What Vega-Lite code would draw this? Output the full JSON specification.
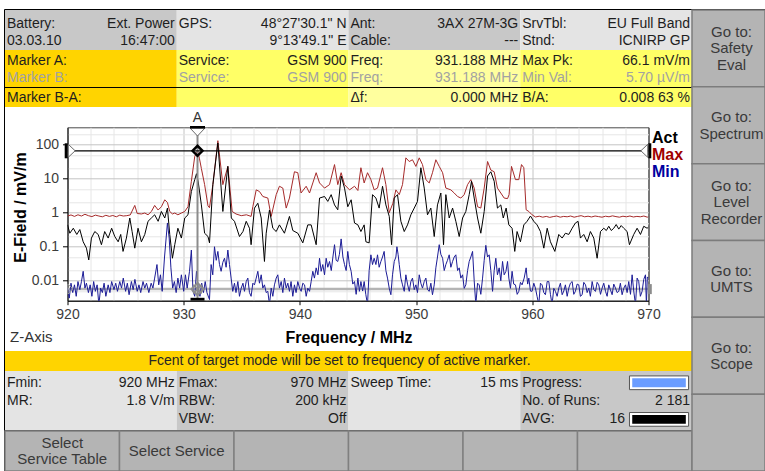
{
"$schema": "https://vega.github.io/schema/vega-lite/v6.json",
"background": "#ffffff",
"width": 581,
"height": 173.4,
"autosize": {"type": "none"},
"padding": {"left": 67.5, "top": 127.3, "right": 116.5, "bottom": 170.3},
"config": {"view": {"stroke": "#4a4a4a", "strokeWidth": 1}, "font": "Liberation Sans"},
"datasets": {
"act": [{"f":920.0,"v":0.44},{"f":920.2,"v":0.25},{"f":920.5,"v":0.35},{"f":920.8,"v":0.23},{"f":921.06,"v":0.32},{"f":921.35,"v":0.14},{"f":921.63,"v":0.091},{"f":921.83,"v":0.041},{"f":922.06,"v":0.18},{"f":922.35,"v":0.28},{"f":922.64,"v":0.23},{"f":922.92,"v":0.115},{"f":923.2,"v":0.28},{"f":923.5,"v":0.18},{"f":923.8,"v":0.35},{"f":924.07,"v":0.2},{"f":924.36,"v":0.14},{"f":924.58,"v":0.23},{"f":924.78,"v":0.073},{"f":925.07,"v":0.18},{"f":925.36,"v":0.7},{"f":925.56,"v":0.28},{"f":925.79,"v":0.091},{"f":926.07,"v":0.35},{"f":926.36,"v":0.14},{"f":926.65,"v":0.23},{"f":926.93,"v":0.56},{"f":927.22,"v":0.7},{"f":927.5,"v":0.87},{"f":927.8,"v":0.56},{"f":928.08,"v":1.09},{"f":928.37,"v":0.7},{"f":928.6,"v":1.37},{"f":928.8,"v":0.23},{"f":929.03,"v":0.046},{"f":929.23,"v":0.115},{"f":929.5,"v":0.35},{"f":929.8,"v":0.18},{"f":930.09,"v":0.7},{"f":930.37,"v":0.87},{"f":930.66,"v":4.2},{"f":930.95,"v":9.4},{"f":931.1,"v":14},{"f":931.25,"v":8},{"f":931.52,"v":1.7},{"f":931.8,"v":0.25},{"f":932.09,"v":0.2},{"f":932.22,"v":0.13},{"f":932.51,"v":6.7},{"f":932.94,"v":112},{"f":933.37,"v":1.09},{"f":933.8,"v":23},{"f":934.1,"v":0.7},{"f":934.37,"v":0.56},{"f":934.8,"v":0.2},{"f":935.1,"v":0.28},{"f":935.38,"v":0.56},{"f":935.66,"v":0.35},{"f":935.8,"v":0.115},{"f":936.09,"v":1.37},{"f":936.38,"v":1.9},{"f":936.67,"v":0.7},{"f":936.95,"v":0.037},{"f":937.1,"v":0.25},{"f":937.38,"v":1.2},{"f":937.67,"v":0.35},{"f":937.96,"v":0.28},{"f":938.24,"v":0.44},{"f":938.67,"v":0.25},{"f":939.1,"v":0.78},{"f":939.39,"v":0.3},{"f":939.82,"v":0.25},{"f":940.25,"v":0.13},{"f":940.68,"v":0.44},{"f":940.97,"v":0.44},{"f":941.4,"v":0.115},{"f":941.69,"v":2.7},{"f":942.12,"v":3.0},{"f":942.4,"v":2.15},{"f":942.69,"v":3.4},{"f":942.98,"v":1.7},{"f":943.26,"v":1.22},{"f":943.55,"v":12},{"f":943.84,"v":5.3},{"f":944.12,"v":1.5},{"f":944.41,"v":2.4},{"f":944.7,"v":0.5},{"f":944.99,"v":0.44},{"f":945.25,"v":0.28},{"f":945.53,"v":0.44},{"f":945.68,"v":0.14},{"f":945.96,"v":0.13},{"f":946.25,"v":3.4},{"f":946.54,"v":2.7},{"f":946.82,"v":1.37},{"f":947.11,"v":6.0},{"f":947.4,"v":1.7},{"f":947.69,"v":0.78},{"f":947.89,"v":0.115},{"f":948.12,"v":2.7},{"f":948.4,"v":3.4},{"f":948.69,"v":0.56},{"f":948.98,"v":0.28},{"f":949.26,"v":0.44},{"f":949.55,"v":0.87},{"f":949.84,"v":1.37},{"f":950.12,"v":2.15},{"f":950.41,"v":21},{"f":950.7,"v":5.3},{"f":950.98,"v":0.87},{"f":951.27,"v":1.37},{"f":951.56,"v":0.2},{"f":951.84,"v":1.7},{"f":952.13,"v":3.8},{"f":952.36,"v":0.115},{"f":952.56,"v":3.4},{"f":952.85,"v":0.7},{"f":953.14,"v":1.37},{"f":953.42,"v":0.56},{"f":953.71,"v":0.2},{"f":954.0,"v":0.7},{"f":954.28,"v":1.09},{"f":954.57,"v":3.4},{"f":954.77,"v":8.4},{"f":955.0,"v":2.7},{"f":955.29,"v":0.7},{"f":955.57,"v":0.25},{"f":955.86,"v":1.09},{"f":956.15,"v":12},{"f":956.43,"v":16},{"f":956.72,"v":8.4},{"f":957.0,"v":1.37},{"f":957.29,"v":1.7},{"f":957.5,"v":0.7},{"f":957.75,"v":1.37},{"f":957.98,"v":0.44},{"f":958.26,"v":0.35},{"f":958.49,"v":0.073},{"f":958.69,"v":0.28},{"f":958.98,"v":0.14},{"f":959.27,"v":0.44},{"f":959.55,"v":0.56},{"f":959.84,"v":0.8},{"f":960.13,"v":0.56},{"f":960.41,"v":0.44},{"f":960.7,"v":0.28},{"f":960.99,"v":0.091},{"f":961.28,"v":0.35},{"f":961.56,"v":0.14},{"f":961.94,"v":0.073},{"f":962.28,"v":0.23},{"f":962.57,"v":0.18},{"f":962.85,"v":0.25},{"f":963.14,"v":0.23},{"f":963.43,"v":0.35},{"f":963.71,"v":0.5},{"f":963.94,"v":0.56},{"f":964.14,"v":0.18},{"f":964.43,"v":0.23},{"f":964.72,"v":0.14},{"f":965.0,"v":0.28},{"f":965.29,"v":0.18},{"f":965.58,"v":0.046},{"f":965.87,"v":0.28},{"f":966.15,"v":0.35},{"f":966.37,"v":0.3},{"f":966.58,"v":0.4},{"f":966.8,"v":0.3},{"f":967.01,"v":0.35},{"f":967.22,"v":0.45},{"f":967.44,"v":0.33},{"f":967.65,"v":0.42},{"f":967.87,"v":0.35},{"f":968.16,"v":0.28},{"f":968.36,"v":0.115},{"f":968.73,"v":0.23},{"f":969.02,"v":0.35},{"f":969.31,"v":0.23},{"f":969.59,"v":0.4},{"f":969.88,"v":0.35},{"f":970.0,"v":0.38}],
"max": [{"f":920.0,"v":0.8},{"f":920.3,"v":0.86},{"f":920.6,"v":0.78},{"f":920.9,"v":0.87},{"f":921.2,"v":0.8},{"f":921.5,"v":0.9},{"f":921.8,"v":0.82},{"f":922.1,"v":0.77},{"f":922.4,"v":0.85},{"f":922.7,"v":0.8},{"f":923.0,"v":0.76},{"f":923.3,"v":0.84},{"f":923.6,"v":0.78},{"f":923.9,"v":0.83},{"f":924.2,"v":0.76},{"f":924.5,"v":0.85},{"f":924.8,"v":0.8},{"f":925.1,"v":0.82},{"f":925.4,"v":0.86},{"f":925.6,"v":1.2},{"f":925.79,"v":1.64},{"f":926.0,"v":0.95},{"f":926.36,"v":0.92},{"f":926.65,"v":0.98},{"f":926.93,"v":0.87},{"f":927.22,"v":1.09},{"f":927.5,"v":1.64},{"f":927.8,"v":1.2},{"f":928.08,"v":1.5},{"f":928.37,"v":2.4},{"f":928.6,"v":2.0},{"f":928.8,"v":1.09},{"f":929.03,"v":0.92},{"f":929.23,"v":0.98},{"f":929.5,"v":0.87},{"f":929.8,"v":0.98},{"f":930.09,"v":1.09},{"f":930.37,"v":1.5},{"f":930.66,"v":8.4},{"f":930.95,"v":45},{"f":931.19,"v":66.1},{"f":931.35,"v":40},{"f":931.52,"v":20},{"f":931.8,"v":6.7},{"f":932.09,"v":1.6},{"f":932.22,"v":1.4},{"f":932.51,"v":6.7},{"f":932.94,"v":131},{"f":933.37,"v":6.7},{"f":933.8,"v":23},{"f":934.17,"v":1.09},{"f":934.5,"v":0.92},{"f":934.95,"v":0.82},{"f":935.4,"v":0.87},{"f":935.8,"v":0.78},{"f":935.95,"v":1.5},{"f":936.24,"v":4.7},{"f":936.52,"v":4.2},{"f":936.81,"v":3.0},{"f":937.24,"v":2.7},{"f":937.53,"v":0.78},{"f":937.96,"v":3.4},{"f":938.24,"v":6.0},{"f":938.53,"v":5.3},{"f":938.82,"v":1.37},{"f":939.1,"v":2.7},{"f":939.53,"v":16},{"f":939.82,"v":15},{"f":940.1,"v":3.8},{"f":940.54,"v":6.0},{"f":940.83,"v":3.8},{"f":941.11,"v":7.5},{"f":941.4,"v":15},{"f":941.69,"v":7.5},{"f":942.12,"v":5.3},{"f":942.55,"v":6.7},{"f":942.98,"v":26},{"f":943.26,"v":6.7},{"f":943.55,"v":15},{"f":943.84,"v":6.7},{"f":944.27,"v":4.7},{"f":944.7,"v":6.0},{"f":944.99,"v":4.5},{"f":945.25,"v":21},{"f":945.53,"v":7.5},{"f":945.82,"v":15},{"f":946.11,"v":9.4},{"f":946.39,"v":4.7},{"f":946.68,"v":5.3},{"f":947.11,"v":21},{"f":947.4,"v":6.7},{"f":947.69,"v":1.0},{"f":948.0,"v":1.9},{"f":948.26,"v":4.7},{"f":948.55,"v":3.4},{"f":948.83,"v":6.7},{"f":949.12,"v":41},{"f":949.41,"v":32},{"f":949.69,"v":36},{"f":949.98,"v":23},{"f":950.27,"v":41},{"f":950.55,"v":26},{"f":950.84,"v":9.4},{"f":951.13,"v":7.5},{"f":951.41,"v":15},{"f":951.7,"v":36},{"f":951.99,"v":23},{"f":952.28,"v":15},{"f":952.56,"v":5.3},{"f":952.99,"v":4.7},{"f":953.28,"v":3.8},{"f":953.57,"v":3.0},{"f":953.85,"v":2.7},{"f":954.14,"v":3.4},{"f":954.43,"v":6.7},{"f":954.71,"v":9.4},{"f":955.0,"v":5.3},{"f":955.29,"v":1.5},{"f":955.57,"v":1.37},{"f":955.86,"v":5.3},{"f":956.15,"v":32},{"f":956.43,"v":18},{"f":956.72,"v":16},{"f":957.0,"v":5.3},{"f":957.29,"v":3.8},{"f":957.58,"v":2.7},{"f":957.87,"v":2.6},{"f":958.0,"v":3.4},{"f":958.21,"v":23},{"f":958.55,"v":9.4},{"f":958.84,"v":9.4},{"f":959.07,"v":26},{"f":959.27,"v":21},{"f":959.47,"v":1.22},{"f":959.7,"v":1.09},{"f":959.98,"v":0.87},{"f":960.27,"v":0.75},{"f":960.6,"v":0.79},{"f":960.9,"v":0.74},{"f":961.2,"v":0.78},{"f":961.5,"v":0.73},{"f":961.8,"v":0.77},{"f":962.1,"v":0.8},{"f":962.4,"v":0.74},{"f":962.7,"v":0.78},{"f":963.0,"v":0.76},{"f":963.3,"v":0.8},{"f":963.6,"v":0.74},{"f":963.9,"v":0.78},{"f":964.2,"v":0.82},{"f":964.5,"v":0.76},{"f":964.8,"v":0.79},{"f":965.1,"v":0.75},{"f":965.4,"v":0.8},{"f":965.7,"v":0.77},{"f":966.0,"v":0.74},{"f":966.3,"v":0.79},{"f":966.6,"v":0.76},{"f":966.9,"v":0.81},{"f":967.2,"v":0.77},{"f":967.5,"v":0.74},{"f":967.8,"v":0.79},{"f":968.1,"v":0.76},{"f":968.4,"v":0.8},{"f":968.7,"v":0.75},{"f":969.0,"v":0.78},{"f":969.3,"v":0.76},{"f":969.6,"v":0.8},{"f":969.9,"v":0.74},{"f":970.0,"v":0.77}],
"min": [{"f":920.0,"v":0.0061},{"f":920.15,"v":0.0031},{"f":920.3,"v":0.0085},{"f":920.45,"v":0.0045},{"f":920.6,"v":0.0076},{"f":920.75,"v":0.0035},{"f":920.9,"v":0.0095},{"f":921.06,"v":0.0055},{"f":921.2,"v":0.0095},{"f":921.35,"v":0.019},{"f":921.5,"v":0.0061},{"f":921.63,"v":0.0085},{"f":921.8,"v":0.0045},{"f":921.95,"v":0.0076},{"f":922.1,"v":0.0035},{"f":922.25,"v":0.0095},{"f":922.4,"v":0.0049},{"f":922.55,"v":0.0076},{"f":922.7,"v":0.002},{"f":922.85,"v":0.0061},{"f":923.0,"v":0.0045},{"f":923.15,"v":0.0085},{"f":923.3,"v":0.0035},{"f":923.5,"v":0.0076},{"f":923.65,"v":0.0045},{"f":923.8,"v":0.0095},{"f":924.0,"v":0.0055},{"f":924.15,"v":0.0085},{"f":924.3,"v":0.0049},{"f":924.5,"v":0.0095},{"f":924.65,"v":0.0061},{"f":924.8,"v":0.012},{"f":925.0,"v":0.0049},{"f":925.15,"v":0.0085},{"f":925.3,"v":0.0039},{"f":925.5,"v":0.0095},{"f":925.65,"v":0.0055},{"f":925.8,"v":0.011},{"f":926.0,"v":0.0049},{"f":926.15,"v":0.0076},{"f":926.3,"v":0.0045},{"f":926.5,"v":0.0095},{"f":926.65,"v":0.0061},{"f":926.8,"v":0.0085},{"f":927.0,"v":0.0045},{"f":927.2,"v":0.0085},{"f":927.35,"v":0.0061},{"f":927.5,"v":0.012},{"f":927.7,"v":0.03},{"f":927.85,"v":0.0076},{"f":928.0,"v":0.015},{"f":928.15,"v":0.0049},{"f":928.35,"v":0.05},{"f":928.6,"v":0.5},{"f":928.75,"v":0.18},{"f":928.9,"v":0.024},{"f":929.05,"v":0.0061},{"f":929.2,"v":0.0095},{"f":929.35,"v":0.0045},{"f":929.5,"v":0.012},{"f":929.65,"v":0.0061},{"f":929.8,"v":0.015},{"f":930.0,"v":0.0049},{"f":930.15,"v":0.015},{"f":930.3,"v":0.0061},{"f":930.5,"v":0.019},{"f":930.66,"v":0.08},{"f":930.8,"v":0.0049},{"f":930.95,"v":0.0035},{"f":931.1,"v":0.019},{"f":931.25,"v":0.0061},{"f":931.4,"v":0.0035},{"f":931.55,"v":0.0085},{"f":931.7,"v":0.0045},{"f":931.85,"v":0.0095},{"f":932.0,"v":0.0045},{"f":932.22,"v":0.0028},{"f":932.36,"v":0.03},{"f":932.5,"v":0.015},{"f":932.65,"v":0.1},{"f":932.8,"v":0.04},{"f":932.94,"v":0.073},{"f":933.08,"v":0.03},{"f":933.22,"v":0.019},{"f":933.37,"v":0.035},{"f":933.51,"v":0.046},{"f":933.65,"v":0.025},{"f":933.8,"v":0.08},{"f":933.94,"v":0.03},{"f":934.08,"v":0.012},{"f":934.22,"v":0.0049},{"f":934.37,"v":0.0085},{"f":934.5,"v":0.0045},{"f":934.66,"v":0.0095},{"f":934.8,"v":0.0035},{"f":934.95,"v":0.0061},{"f":935.1,"v":0.0085},{"f":935.23,"v":0.0049},{"f":935.38,"v":0.0095},{"f":935.52,"v":0.012},{"f":935.66,"v":0.0045},{"f":935.8,"v":0.0035},{"f":935.95,"v":0.0085},{"f":936.09,"v":0.0076},{"f":936.24,"v":0.012},{"f":936.38,"v":0.019},{"f":936.52,"v":0.0085},{"f":936.67,"v":0.015},{"f":936.81,"v":0.0061},{"f":936.95,"v":0.0076},{"f":937.1,"v":0.0045},{"f":937.24,"v":0.0049},{"f":937.38,"v":0.002},{"f":937.53,"v":0.0061},{"f":937.67,"v":0.0035},{"f":937.81,"v":0.0076},{"f":937.96,"v":0.012},{"f":938.1,"v":0.015},{"f":938.24,"v":0.0061},{"f":938.39,"v":0.0095},{"f":938.53,"v":0.0045},{"f":938.67,"v":0.012},{"f":938.82,"v":0.0061},{"f":938.96,"v":0.0085},{"f":939.1,"v":0.0049},{"f":939.24,"v":0.0095},{"f":939.39,"v":0.0035},{"f":939.53,"v":0.0076},{"f":939.67,"v":0.0045},{"f":939.82,"v":0.0095},{"f":939.97,"v":0.0061},{"f":940.11,"v":0.0049},{"f":940.25,"v":0.0085},{"f":940.4,"v":0.0076},{"f":940.54,"v":0.0035},{"f":940.68,"v":0.0061},{"f":940.83,"v":0.0049},{"f":940.97,"v":0.0095},{"f":941.11,"v":0.019},{"f":941.25,"v":0.012},{"f":941.4,"v":0.024},{"f":941.55,"v":0.015},{"f":941.69,"v":0.046},{"f":941.83,"v":0.019},{"f":941.97,"v":0.03},{"f":942.12,"v":0.015},{"f":942.26,"v":0.046},{"f":942.4,"v":0.025},{"f":942.55,"v":0.037},{"f":942.7,"v":0.02},{"f":942.84,"v":0.05},{"f":942.98,"v":0.115},{"f":943.12,"v":0.04},{"f":943.26,"v":0.037},{"f":943.4,"v":0.06},{"f":943.55,"v":0.17},{"f":943.7,"v":0.05},{"f":943.84,"v":0.03},{"f":943.98,"v":0.02},{"f":944.12,"v":0.073},{"f":944.26,"v":0.03},{"f":944.41,"v":0.019},{"f":944.55,"v":0.008},{"f":944.7,"v":0.0095},{"f":944.84,"v":0.004},{"f":944.99,"v":0.012},{"f":945.12,"v":0.0049},{"f":945.25,"v":0.0095},{"f":945.4,"v":0.005},{"f":945.53,"v":0.0095},{"f":945.67,"v":0.004},{"f":945.82,"v":0.002},{"f":945.96,"v":0.02},{"f":946.11,"v":0.058},{"f":946.25,"v":0.03},{"f":946.39,"v":0.046},{"f":946.54,"v":0.03},{"f":946.68,"v":0.058},{"f":946.82,"v":0.025},{"f":946.97,"v":0.037},{"f":947.11,"v":0.05},{"f":947.25,"v":0.073},{"f":947.4,"v":0.02},{"f":947.54,"v":0.012},{"f":947.69,"v":0.006},{"f":947.83,"v":0.0039},{"f":947.97,"v":0.015},{"f":948.12,"v":0.037},{"f":948.26,"v":0.05},{"f":948.35,"v":0.1},{"f":948.45,"v":0.06},{"f":948.55,"v":0.03},{"f":948.69,"v":0.012},{"f":948.83,"v":0.0076},{"f":948.98,"v":0.0049},{"f":949.12,"v":0.015},{"f":949.26,"v":0.008},{"f":949.41,"v":0.0049},{"f":949.55,"v":0.0095},{"f":949.69,"v":0.012},{"f":949.84,"v":0.0055},{"f":949.98,"v":0.0076},{"f":950.12,"v":0.0045},{"f":950.27,"v":0.015},{"f":950.41,"v":0.0085},{"f":950.55,"v":0.0061},{"f":950.7,"v":0.0095},{"f":950.84,"v":0.012},{"f":950.98,"v":0.0055},{"f":951.13,"v":0.0049},{"f":951.27,"v":0.0085},{"f":951.41,"v":0.0039},{"f":951.56,"v":0.0076},{"f":951.7,"v":0.024},{"f":951.84,"v":0.05},{"f":951.99,"v":0.115},{"f":952.13,"v":0.06},{"f":952.28,"v":0.046},{"f":952.42,"v":0.02},{"f":952.56,"v":0.03},{"f":952.7,"v":0.04},{"f":952.85,"v":0.058},{"f":952.99,"v":0.025},{"f":953.14,"v":0.037},{"f":953.28,"v":0.05},{"f":953.42,"v":0.058},{"f":953.57,"v":0.02},{"f":953.71,"v":0.024},{"f":953.85,"v":0.012},{"f":954.0,"v":0.015},{"f":954.14,"v":0.006},{"f":954.28,"v":0.0076},{"f":954.43,"v":0.02},{"f":954.57,"v":0.037},{"f":954.71,"v":0.05},{"f":954.86,"v":0.073},{"f":955.0,"v":0.01},{"f":955.14,"v":0.002},{"f":955.29,"v":0.0085},{"f":955.43,"v":0.0076},{"f":955.57,"v":0.004},{"f":955.72,"v":0.012},{"f":955.86,"v":0.04},{"f":956.0,"v":0.11},{"f":956.15,"v":0.05},{"f":956.29,"v":0.058},{"f":956.43,"v":0.02},{"f":956.58,"v":0.0049},{"f":956.72,"v":0.02},{"f":956.86,"v":0.046},{"f":957.0,"v":0.015},{"f":957.15,"v":0.024},{"f":957.29,"v":0.01},{"f":957.44,"v":0.037},{"f":957.58,"v":0.015},{"f":957.73,"v":0.019},{"f":957.87,"v":0.037},{"f":957.98,"v":0.012},{"f":958.12,"v":0.006},{"f":958.26,"v":0.019},{"f":958.4,"v":0.008},{"f":958.55,"v":0.0076},{"f":958.7,"v":0.004},{"f":958.84,"v":0.0049},{"f":958.98,"v":0.009},{"f":959.12,"v":0.0076},{"f":959.3,"v":0.012},{"f":959.47,"v":0.024},{"f":959.6,"v":0.008},{"f":959.7,"v":0.012},{"f":959.84,"v":0.005},{"f":959.98,"v":0.0049},{"f":960.13,"v":0.0085},{"f":960.27,"v":0.0061},{"f":960.41,"v":0.0035},{"f":960.56,"v":0.002},{"f":960.7,"v":0.0085},{"f":960.84,"v":0.0076},{"f":960.99,"v":0.0045},{"f":961.13,"v":0.0039},{"f":961.28,"v":0.0095},{"f":961.42,"v":0.0095},{"f":961.56,"v":0.004},{"f":961.7,"v":0.002},{"f":961.85,"v":0.006},{"f":961.99,"v":0.0049},{"f":962.14,"v":0.0035},{"f":962.28,"v":0.0061},{"f":962.42,"v":0.0085},{"f":962.57,"v":0.0039},{"f":962.71,"v":0.005},{"f":962.85,"v":0.0076},{"f":963.0,"v":0.0035},{"f":963.14,"v":0.0061},{"f":963.28,"v":0.0085},{"f":963.43,"v":0.0095},{"f":963.57,"v":0.004},{"f":963.71,"v":0.0049},{"f":963.86,"v":0.008},{"f":964.0,"v":0.0076},{"f":964.14,"v":0.0035},{"f":964.29,"v":0.0039},{"f":964.43,"v":0.009},{"f":964.58,"v":0.0076},{"f":964.72,"v":0.0045},{"f":964.86,"v":0.0061},{"f":965.0,"v":0.0035},{"f":965.15,"v":0.0095},{"f":965.29,"v":0.0055},{"f":965.44,"v":0.0049},{"f":965.58,"v":0.009},{"f":965.72,"v":0.0076},{"f":965.87,"v":0.004},{"f":966.01,"v":0.0061},{"f":966.15,"v":0.0085},{"f":966.3,"v":0.0049},{"f":966.44,"v":0.0035},{"f":966.58,"v":0.0076},{"f":966.72,"v":0.0055},{"f":966.87,"v":0.0039},{"f":967.01,"v":0.008},{"f":967.16,"v":0.0061},{"f":967.3,"v":0.0045},{"f":967.44,"v":0.0049},{"f":967.58,"v":0.0085},{"f":967.73,"v":0.0039},{"f":967.87,"v":0.006},{"f":968.02,"v":0.0076},{"f":968.16,"v":0.0045},{"f":968.3,"v":0.0095},{"f":968.45,"v":0.004},{"f":968.59,"v":0.015},{"f":968.73,"v":0.005},{"f":968.88,"v":0.002},{"f":969.02,"v":0.012},{"f":969.16,"v":0.0095},{"f":969.3,"v":0.0035},{"f":969.45,"v":0.0049},{"f":969.59,"v":0.011},{"f":969.74,"v":0.015},{"f":969.82,"v":0.002},{"f":969.9,"v":0.013},{"f":970.0,"v":0.012}],
"markerA": [{"marker":"A","freq":931.188,"level":66.1}],
"markerB": [{"marker":"B","freq":931.188,"level":0.0057}],
"status": [{"col":"c1","line":1,"label":"Battery:","value":"Ext. Power","tone":"n"},{"col":"c1","line":2,"label":"03.03.10","value":"16:47:00","tone":"n"},{"col":"c2","line":1,"label":"GPS:","value":"48°27'30.1\" N","tone":"n"},{"col":"c2","line":2,"label":"","value":"9°13'49.1\" E","tone":"n"},{"col":"c3","line":1,"label":"Ant:","value":"3AX 27M-3G","tone":"n"},{"col":"c3","line":2,"label":"Cable:","value":"---","tone":"n"},{"col":"c4","line":1,"label":"SrvTbl:","value":"EU Full Band","tone":"n"},{"col":"c4","line":2,"label":"Stnd:","value":"ICNIRP GP","tone":"n"}],
"marker": [{"col":"c1","line":1,"label":"Marker A:","value":"","tone":"n"},{"col":"c1","line":2,"label":"Marker B:","value":"","tone":"d"},{"col":"c2","line":1,"label":"Service:","value":"GSM 900","tone":"n"},{"col":"c2","line":2,"label":"Service:","value":"GSM 900","tone":"d"},{"col":"c3","line":1,"label":"Freq:","value":"931.188 MHz","tone":"n"},{"col":"c3","line":2,"label":"Freq:","value":"931.188 MHz","tone":"d"},{"col":"c4","line":1,"label":"Max Pk:","value":"66.1 mV/m","tone":"n"},{"col":"c4","line":2,"label":"Min Val:","value":"5.70 µV/m","tone":"d"}],
"delta": [{"col":"c1","row":"r","label":"Marker B-A:","value":"","tone":"n"},{"col":"c2","row":"r","label":"","value":"","tone":"n"},{"col":"c3","row":"r","label":"Δf:","value":"0.000 MHz","tone":"n"},{"col":"c4","row":"r","label":"B/A:","value":"0.008 63 %","tone":"n"}],
"info": [{"col":"c1","line":1,"label":"Fmin:","value":"920 MHz","tone":"n"},{"col":"c1","line":2,"label":"MR:","value":"1.8 V/m","tone":"n"},{"col":"c2","line":1,"label":"Fmax:","value":"970 MHz","tone":"n"},{"col":"c2","line":2,"label":"RBW:","value":"200 kHz","tone":"n"},{"col":"c2","line":3,"label":"VBW:","value":"Off","tone":"n"},{"col":"c3","line":1,"label":"Sweep Time:","value":"15 ms","tone":"n"},{"col":"c4","line":1,"label":"Progress:","value":"","tone":"n"},{"col":"c4","line":2,"label":"No. of Runs:","value":"2 181","tone":"n"},{"col":"c4","line":3,"label":"AVG:","value":"","tone":"n"}],
"meters": [{"col":"c4","line":1,"kind":"blue","reading":"","tone":"n"},{"col":"c4","line":3,"kind":"black","reading":"16","tone":"n"}],
"softkeys": [{"btn":"b1","row":"k","label":"Select\nService Table"},{"btn":"b2","row":"k","label":"Select Service"},{"btn":"b3","row":"k","label":""},{"btn":"b4","row":"k","label":""},{"btn":"b5","row":"k","label":""},{"btn":"b6","row":"k","label":""}],
"gotokeys": [{"btn":"b1","colm":"g","label":"Go to:\nSafety\nEval"},{"btn":"b2","colm":"g","label":"Go to:\nSpectrum"},{"btn":"b3","colm":"g","label":"Go to:\nLevel\nRecorder"},{"btn":"b4","colm":"g","label":"Go to:\nUMTS"},{"btn":"b5","colm":"g","label":"Go to:\nScope"},{"btn":"b6","colm":"g","label":""}]
},
"layer": [
 {"data": {"values": [{"part": "frame"}]},
  "mark": {"type": "rect", "fillOpacity": 0, "stroke": "#000000", "strokeWidth": 1},
  "encoding": {"x": {"field": "part", "type": "nominal", "scale": {"type": "band", "range": [-63, 712.5], "paddingInner": 0, "paddingOuter": 0}, "axis": null},
               "y": {"field": "part", "type": "nominal", "scale": {"type": "band", "range": [-117.8, 362.7], "paddingInner": 0, "paddingOuter": 0}, "axis": null}}},
 {"layer": [
   {"data": {"values": [{"col":"c1","blk":"s","kind":"gray"},{"col":"c2","blk":"s","kind":"light"},{"col":"c3","blk":"s","kind":"gray"},{"col":"c4","blk":"s","kind":"light"}]},
    "mark": "rect",
    "encoding": {"x": {"field":"col","type":"nominal","scale":{"type":"band","domain":["c1","c2","c3","c4"],"range":[-62.5,624.5],"paddingInner":0,"paddingOuter":0},"axis":null},
                 "y": {"field":"blk","type":"nominal","scale":{"type":"band","range":[-117.3,-77.3],"paddingInner":0,"paddingOuter":0},"axis":null},
                 "fill": {"field":"kind","type":"nominal","scale":{"domain":["gray","light","gold","yellow","pale","n","d","blue","black"],"range":["#c8c8c8","#e4e4e4","#ffd400","#ffff66","#ffff9e","#1e1e1e","#a2a2a2","#6a9cff","#000000"]},"legend":null}}},
   {"data": {"name": "status"}, "mark": {"type":"text","align":"left","baseline":"middle","dx":2,"dy":1,"fontSize":14},
    "encoding": {"x": {"field":"col","type":"nominal","bandPosition":0,"scale":{"type":"band","domain":["c1","c2","c3","c4"],"range":[-62.5,624.5],"paddingInner":0,"paddingOuter":0},"axis":null},
                 "y": {"field":"line","type":"ordinal","scale":{"type":"band","domain":[1,2],"range":[-117.3,-77.3],"paddingInner":0,"paddingOuter":0.156,"align":0.75},"axis":null},
                 "text": {"field":"label"},
                 "fill": {"field":"tone","type":"nominal","scale":{"domain":["gray","light","gold","yellow","pale","n","d","blue","black"],"range":["#c8c8c8","#e4e4e4","#ffd400","#ffff66","#ffff9e","#1e1e1e","#a2a2a2","#6a9cff","#000000"]},"legend":null}}},
   {"data": {"name": "status"}, "mark": {"type":"text","align":"right","baseline":"middle","dx":-2,"dy":1,"fontSize":14},
    "encoding": {"x": {"field":"col","type":"nominal","bandPosition":1,"scale":{"type":"band","domain":["c1","c2","c3","c4"],"range":[-62.5,624.5],"paddingInner":0,"paddingOuter":0},"axis":null},
                 "y": {"field":"line","type":"ordinal","scale":{"type":"band","domain":[1,2],"range":[-117.3,-77.3],"paddingInner":0,"paddingOuter":0.156,"align":0.75},"axis":null},
                 "text": {"field":"value"},
                 "fill": {"field":"tone","type":"nominal","scale":{"domain":["gray","light","gold","yellow","pale","n","d","blue","black"],"range":["#c8c8c8","#e4e4e4","#ffd400","#ffff66","#ffff9e","#1e1e1e","#a2a2a2","#6a9cff","#000000"]},"legend":null}}}
  ], "resolve": {"scale": {"y": "independent"}}},
 {"layer": [
   {"data": {"values": [{"col":"c1","blk":"m","kind":"gold"},{"col":"c2","blk":"m","kind":"yellow"},{"col":"c3","blk":"m","kind":"pale"},{"col":"c4","blk":"m","kind":"yellow"}]},
    "mark": "rect",
    "encoding": {"x": {"field":"col","type":"nominal","scale":{"type":"band","domain":["c1","c2","c3","c4"],"range":[-62.5,624.5],"paddingInner":0,"paddingOuter":0},"axis":null},
                 "y": {"field":"blk","type":"nominal","scale":{"type":"band","range":[-77.3,-40.3],"paddingInner":0,"paddingOuter":0},"axis":null},
                 "fill": {"field":"kind","type":"nominal","scale":{"domain":["gray","light","gold","yellow","pale","n","d","blue","black"],"range":["#c8c8c8","#e4e4e4","#ffd400","#ffff66","#ffff9e","#1e1e1e","#a2a2a2","#6a9cff","#000000"]},"legend":null}}},
   {"data": {"name": "marker"}, "mark": {"type":"text","align":"left","baseline":"middle","dx":2,"dy":1,"fontSize":14},
    "encoding": {"x": {"field":"col","type":"nominal","bandPosition":0,"scale":{"type":"band","domain":["c1","c2","c3","c4"],"range":[-62.5,624.5],"paddingInner":0,"paddingOuter":0},"axis":null},
                 "y": {"field":"line","type":"ordinal","scale":{"type":"band","domain":[1,2],"range":[-77.3,-40.3],"paddingInner":0,"paddingOuter":0.069,"align":0.5},"axis":null},
                 "text": {"field":"label"},
                 "fill": {"field":"tone","type":"nominal","scale":{"domain":["gray","light","gold","yellow","pale","n","d","blue","black"],"range":["#c8c8c8","#e4e4e4","#ffd400","#ffff66","#ffff9e","#1e1e1e","#a2a2a2","#6a9cff","#000000"]},"legend":null}}},
   {"data": {"name": "marker"}, "mark": {"type":"text","align":"right","baseline":"middle","dx":-2,"dy":1,"fontSize":14},
    "encoding": {"x": {"field":"col","type":"nominal","bandPosition":1,"scale":{"type":"band","domain":["c1","c2","c3","c4"],"range":[-62.5,624.5],"paddingInner":0,"paddingOuter":0},"axis":null},
                 "y": {"field":"line","type":"ordinal","scale":{"type":"band","domain":[1,2],"range":[-77.3,-40.3],"paddingInner":0,"paddingOuter":0.069,"align":0.5},"axis":null},
                 "text": {"field":"value"},
                 "fill": {"field":"tone","type":"nominal","scale":{"domain":["gray","light","gold","yellow","pale","n","d","blue","black"],"range":["#c8c8c8","#e4e4e4","#ffd400","#ffff66","#ffff9e","#1e1e1e","#a2a2a2","#6a9cff","#000000"]},"legend":null}}}
  ], "resolve": {"scale": {"y": "independent"}}},
 {"data": {"values": [{"part": "sep"}]},
  "mark": {"type": "rect", "fill": "#000000"},
  "encoding": {"x": {"field": "part", "type": "nominal", "scale": {"type": "band", "range": [-62.5, 624.5], "paddingInner": 0, "paddingOuter": 0}, "axis": null},
               "y": {"field": "part", "type": "nominal", "scale": {"type": "band", "range": [-40.3, -39.3], "paddingInner": 0, "paddingOuter": 0}, "axis": null}}},
 {"layer": [
   {"data": {"values": [{"col":"c1","row":"r","kind":"gold"},{"col":"c2","row":"r","kind":"yellow"},{"col":"c3","row":"r","kind":"pale"},{"col":"c4","row":"r","kind":"yellow"}]},
    "mark": "rect",
    "encoding": {"x": {"field":"col","type":"nominal","scale":{"type":"band","domain":["c1","c2","c3","c4"],"range":[-62.5,624.5],"paddingInner":0,"paddingOuter":0},"axis":null},
                 "y": {"field":"row","type":"nominal","scale":{"type":"band","range":[-39.3,-20.3],"paddingInner":0,"paddingOuter":0},"axis":null},
                 "fill": {"field":"kind","type":"nominal","scale":{"domain":["gray","light","gold","yellow","pale","n","d","blue","black"],"range":["#c8c8c8","#e4e4e4","#ffd400","#ffff66","#ffff9e","#1e1e1e","#a2a2a2","#6a9cff","#000000"]},"legend":null}}},
   {"data": {"name": "delta"}, "mark": {"type":"text","align":"left","baseline":"middle","dx":2,"fontSize":14},
    "encoding": {"x": {"field":"col","type":"nominal","bandPosition":0,"scale":{"type":"band","domain":["c1","c2","c3","c4"],"range":[-62.5,624.5],"paddingInner":0,"paddingOuter":0},"axis":null},
                 "y": {"field":"row","type":"nominal","scale":{"type":"band","range":[-39.3,-20.3],"paddingInner":0,"paddingOuter":0},"axis":null},
                 "text": {"field":"label"},
                 "fill": {"field":"tone","type":"nominal","scale":{"domain":["gray","light","gold","yellow","pale","n","d","blue","black"],"range":["#c8c8c8","#e4e4e4","#ffd400","#ffff66","#ffff9e","#1e1e1e","#a2a2a2","#6a9cff","#000000"]},"legend":null}}},
   {"data": {"name": "delta"}, "mark": {"type":"text","align":"right","baseline":"middle","dx":-2,"fontSize":14},
    "encoding": {"x": {"field":"col","type":"nominal","bandPosition":1,"scale":{"type":"band","domain":["c1","c2","c3","c4"],"range":[-62.5,624.5],"paddingInner":0,"paddingOuter":0},"axis":null},
                 "y": {"field":"row","type":"nominal","scale":{"type":"band","range":[-39.3,-20.3],"paddingInner":0,"paddingOuter":0},"axis":null},
                 "text": {"field":"value"},
                 "fill": {"field":"tone","type":"nominal","scale":{"domain":["gray","light","gold","yellow","pale","n","d","blue","black"],"range":["#c8c8c8","#e4e4e4","#ffd400","#ffff66","#ffff9e","#1e1e1e","#a2a2a2","#6a9cff","#000000"]},"legend":null}}}
  ]},
 {"data": {"values": [{"part": "msg", "msg": "Fcent of target mode will be set to frequency of active marker."}]},
  "layer": [
   {"mark": {"type": "rect", "fill": "#ffd400"},
    "encoding": {"x": {"field": "part", "type": "nominal", "scale": {"type": "band", "range": [-62.5, 624.5], "paddingInner": 0, "paddingOuter": 0}, "axis": null},
                 "y": {"field": "part", "type": "nominal", "scale": {"type": "band", "range": [223.7, 243.7], "paddingInner": 0, "paddingOuter": 0}, "axis": null}}},
   {"mark": {"type": "text", "fontSize": 14, "fill": "#262626", "baseline": "middle", "dx": -9},
    "encoding": {"x": {"field": "part", "type": "nominal", "scale": {"type": "band", "range": [-62.5, 624.5], "paddingInner": 0, "paddingOuter": 0}, "axis": null},
                 "y": {"field": "part", "type": "nominal", "scale": {"type": "band", "range": [223.7, 243.7], "paddingInner": 0, "paddingOuter": 0}, "axis": null},
                 "text": {"field": "msg"}}}
  ]},
 {"layer": [
   {"data": {"values": [{"col":"c1","blk":"i","kind":"light"},{"col":"c2","blk":"i","kind":"gray"},{"col":"c3","blk":"i","kind":"light"},{"col":"c4","blk":"i","kind":"gray"}]},
    "mark": "rect",
    "encoding": {"x": {"field":"col","type":"nominal","scale":{"type":"band","domain":["c1","c2","c3","c4"],"range":[-62.5,624.5],"paddingInner":0,"paddingOuter":0},"axis":null},
                 "y": {"field":"blk","type":"nominal","scale":{"type":"band","range":[243.7,302.7],"paddingInner":0,"paddingOuter":0},"axis":null},
                 "fill": {"field":"kind","type":"nominal","scale":{"domain":["gray","light","gold","yellow","pale","n","d","blue","black"],"range":["#c8c8c8","#e4e4e4","#ffd400","#ffff66","#ffff9e","#1e1e1e","#a2a2a2","#6a9cff","#000000"]},"legend":null}}},
   {"data": {"name": "info"}, "mark": {"type":"text","align":"left","baseline":"middle","dx":2,"fontSize":14},
    "encoding": {"x": {"field":"col","type":"nominal","bandPosition":0,"scale":{"type":"band","domain":["c1","c2","c3","c4"],"range":[-62.5,624.5],"paddingInner":0,"paddingOuter":0},"axis":null},
                 "y": {"field":"line","type":"ordinal","scale":{"type":"band","domain":[1,2,3],"range":[243.7,302.7],"paddingInner":0,"paddingOuter":0.112,"align":0.62},"axis":null},
                 "text": {"field":"label"},
                 "fill": {"field":"tone","type":"nominal","scale":{"domain":["gray","light","gold","yellow","pale","n","d","blue","black"],"range":["#c8c8c8","#e4e4e4","#ffd400","#ffff66","#ffff9e","#1e1e1e","#a2a2a2","#6a9cff","#000000"]},"legend":null}}},
   {"data": {"name": "info"}, "mark": {"type":"text","align":"right","baseline":"middle","dx":-2,"fontSize":14},
    "encoding": {"x": {"field":"col","type":"nominal","bandPosition":1,"scale":{"type":"band","domain":["c1","c2","c3","c4"],"range":[-62.5,624.5],"paddingInner":0,"paddingOuter":0},"axis":null},
                 "y": {"field":"line","type":"ordinal","scale":{"type":"band","domain":[1,2,3],"range":[243.7,302.7],"paddingInner":0,"paddingOuter":0.112,"align":0.62},"axis":null},
                 "text": {"field":"value"},
                 "fill": {"field":"tone","type":"nominal","scale":{"domain":["gray","light","gold","yellow","pale","n","d","blue","black"],"range":["#c8c8c8","#e4e4e4","#ffd400","#ffff66","#ffff9e","#1e1e1e","#a2a2a2","#6a9cff","#000000"]},"legend":null}}},
   {"data": {"name": "meters"}, "mark": {"type":"rect","fill":"#ffffff","stroke":"#555555","strokeWidth":1},
    "encoding": {"x": {"field":"col","type":"nominal","bandPosition":0.636,"scale":{"type":"band","domain":["c1","c2","c3","c4"],"range":[-62.5,624.5],"paddingInner":0,"paddingOuter":0},"axis":null},
                 "x2": {"field":"col","bandPosition":0.98},
                 "y": {"field":"line","type":"ordinal","bandPosition":0.13,"scale":{"type":"band","domain":[1,2,3],"range":[243.7,302.7],"paddingInner":0,"paddingOuter":0.112,"align":0.62},"axis":null},
                 "y2": {"field":"line","bandPosition":0.88}}},
   {"data": {"name": "meters"}, "mark": {"type":"rect"},
    "encoding": {"x": {"field":"col","type":"nominal","bandPosition":0.652,"scale":{"type":"band","domain":["c1","c2","c3","c4"],"range":[-62.5,624.5],"paddingInner":0,"paddingOuter":0},"axis":null},
                 "x2": {"field":"col","bandPosition":0.964},
                 "y": {"field":"line","type":"ordinal","bandPosition":0.26,"scale":{"type":"band","domain":[1,2,3],"range":[243.7,302.7],"paddingInner":0,"paddingOuter":0.112,"align":0.62},"axis":null},
                 "y2": {"field":"line","bandPosition":0.75},
                 "fill": {"field":"kind","type":"nominal","scale":{"domain":["gray","light","gold","yellow","pale","n","d","blue","black"],"range":["#c8c8c8","#e4e4e4","#ffd400","#ffff66","#ffff9e","#1e1e1e","#a2a2a2","#6a9cff","#000000"]},"legend":null}}},
   {"data": {"name": "meters"}, "mark": {"type":"text","align":"right","baseline":"middle","fontSize":14},
    "encoding": {"x": {"field":"col","type":"nominal","bandPosition":0.61,"scale":{"type":"band","domain":["c1","c2","c3","c4"],"range":[-62.5,624.5],"paddingInner":0,"paddingOuter":0},"axis":null},
                 "y": {"field":"line","type":"ordinal","scale":{"type":"band","domain":[1,2,3],"range":[243.7,302.7],"paddingInner":0,"paddingOuter":0.112,"align":0.62},"axis":null},
                 "text": {"field":"reading"},
                 "fill": {"field":"tone","type":"nominal","scale":{"domain":["gray","light","gold","yellow","pale","n","d","blue","black"],"range":["#c8c8c8","#e4e4e4","#ffd400","#ffff66","#ffff9e","#1e1e1e","#a2a2a2","#6a9cff","#000000"]},"legend":null}}}
  ], "resolve": {"scale": {"y": "independent"}}},
 {"data": {"values": [{"part": "line"}]},
  "mark": {"type": "rect", "fill": "#3c3c3c"},
  "encoding": {"x": {"field": "part", "type": "nominal", "scale": {"type": "band", "range": [-62.5, 624.5], "paddingInner": 0, "paddingOuter": 0}, "axis": null},
               "y": {"field": "part", "type": "nominal", "scale": {"type": "band", "range": [302.7, 303.7], "paddingInner": 0, "paddingOuter": 0}, "axis": null}}},
 {"data": {"name": "softkeys"},
  "layer": [
   {"mark": {"type": "rect", "fill": "#b4b4b4", "stroke": "#808080", "strokeWidth": 1.5},
    "encoding": {"x": {"field": "btn", "type": "nominal", "scale": {"type": "band", "range": [-62.5, 624.5], "paddingInner": 0, "paddingOuter": 0}, "axis": null},
                 "y": {"field": "row", "type": "nominal", "scale": {"type": "band", "range": [303.7, 343.7], "paddingInner": 0, "paddingOuter": 0}, "axis": null}}},
   {"transform": [{"filter": "length(split(datum.label, '\\n')) == 1"}],
    "mark": {"type": "text", "fontSize": 15, "fill": "#3a3a3a", "lineBreak": "\n", "lineHeight": 15.6, "baseline": "middle"},
    "encoding": {"x": {"field": "btn", "type": "nominal", "scale": {"type": "band", "range": [-62.5, 624.5], "paddingInner": 0, "paddingOuter": 0}, "axis": null},
                 "y": {"field": "row", "type": "nominal", "scale": {"type": "band", "range": [303.7, 343.7], "paddingInner": 0, "paddingOuter": 0}, "axis": null},
                 "text": {"field": "label"}}},
   {"transform": [{"filter": "length(split(datum.label, '\\n')) == 2"}],
    "mark": {"type": "text", "fontSize": 15, "fill": "#3a3a3a", "lineBreak": "\n", "lineHeight": 15.6, "baseline": "middle", "dy": -7.8},
    "encoding": {"x": {"field": "btn", "type": "nominal", "scale": {"type": "band", "range": [-62.5, 624.5], "paddingInner": 0, "paddingOuter": 0}, "axis": null},
                 "y": {"field": "row", "type": "nominal", "scale": {"type": "band", "range": [303.7, 343.7], "paddingInner": 0, "paddingOuter": 0}, "axis": null},
                 "text": {"field": "label"}}}
  ]},
 {"data": {"name": "gotokeys"},
  "layer": [
   {"mark": {"type": "rect", "fill": "#b4b4b4", "stroke": "#7c7c7c", "strokeWidth": 1.5},
    "encoding": {"x": {"field": "colm", "type": "nominal", "scale": {"type": "band", "range": [624.5, 697.5], "paddingInner": 0, "paddingOuter": 0}, "axis": null},
                 "y": {"field": "btn", "type": "nominal", "scale": {"type": "band", "range": [-117.3, 343.7], "paddingInner": 0, "paddingOuter": 0}, "axis": null}}},
   {"transform": [{"filter": "length(split(datum.label, '\\n')) == 2"}],
    "mark": {"type": "text", "fontSize": 15, "fill": "#3a3a3a", "lineBreak": "\n", "lineHeight": 16.5, "baseline": "middle", "dx": 3, "dy": -8.25},
    "encoding": {"x": {"field": "colm", "type": "nominal", "scale": {"type": "band", "range": [624.5, 697.5], "paddingInner": 0, "paddingOuter": 0}, "axis": null},
                 "y": {"field": "btn", "type": "nominal", "scale": {"type": "band", "range": [-117.3, 343.7], "paddingInner": 0, "paddingOuter": 0}, "axis": null},
                 "text": {"field": "label"}}},
   {"transform": [{"filter": "length(split(datum.label, '\\n')) == 3"}],
    "mark": {"type": "text", "fontSize": 15, "fill": "#3a3a3a", "lineBreak": "\n", "lineHeight": 16.5, "baseline": "middle", "dx": 3, "dy": -16.5},
    "encoding": {"x": {"field": "colm", "type": "nominal", "scale": {"type": "band", "range": [624.5, 697.5], "paddingInner": 0, "paddingOuter": 0}, "axis": null},
                 "y": {"field": "btn", "type": "nominal", "scale": {"type": "band", "range": [-117.3, 343.7], "paddingInner": 0, "paddingOuter": 0}, "axis": null},
                 "text": {"field": "label"}}}
  ]},
 {"resolve": {"axis": {"x": "independent", "y": "independent"}},
  "layer": [
   {"data": {"name": "markerB"}, "mark": {"type": "rule", "color": "#b4b4b4", "strokeWidth": 2.5},
    "encoding": {"y": {"field": "level", "type": "quantitative", "scale": {"type": "log", "domain": [0.0026, 324], "nice": false},
      "axis": {"orient": "right", "values": [0.005, 0.02, 0.05, 0.2, 0.5, 2, 5, 20, 50, 200], "grid": true, "gridColor": "#e6e6e6", "labels": false, "ticks": false, "domain": false, "title": null}}}},
   {"data": {"name": "max"}, "mark": {"type": "line", "strokeWidth": 1, "clip": true},
    "encoding": {"x": {"field": "f", "type": "quantitative", "scale": {"domain": [920, 970], "nice": false, "zero": false}, "axis": null},
      "y": {"field": "v", "type": "quantitative", "scale": {"type": "log", "domain": [0.0026, 324], "nice": false}, "axis": null},
      "color": {"datum": "Max", "type": "nominal", "scale": {"domain": ["Act", "Max", "Min"], "range": ["#000000", "#a52a2a", "#1c1c96"]},
        "legend": {"orient": "none", "legendX": 568.5, "legendY": 2.7, "title": null, "symbolSize": 0, "symbolStrokeWidth": 0, "symbolOpacity": 0, "labelFontSize": 16, "labelFontWeight": "bold", "labelOffset": 0, "rowPadding": 1, "padding": 0,
          "encode": {"labels": {"update": {"fill": {"signal": "datum.value === 'Act' ? '#000000' : datum.value === 'Max' ? '#a00000' : '#0000a0'"}}}}}}}},
   {"data": {"name": "act"}, "mark": {"type": "line", "strokeWidth": 1, "clip": true},
    "encoding": {"x": {"field": "f", "type": "quantitative", "scale": {"domain": [920, 970], "nice": false, "zero": false},
        "axis": {"values": [920, 930, 940, 950, 960, 970], "format": "d", "grid": true, "gridColor": {"condition": {"test": "datum.value === 970", "value": "#4a4a4a"}, "value": "#c4c4c4"}, "domainColor": "#000000", "tickColor": "#000000", "tickSize": 4, "labelFontSize": 14, "labelColor": "#3c3c3c", "labelPadding": 3, "labelFlush": false,
          "title": "Frequency / MHz", "titleFontSize": 16, "titleFontWeight": "bold", "titleColor": "#000000", "titleX": 281, "titleY": 36.5, "titleBaseline": "middle", "titleAlign": "center"}},
      "y": {"field": "v", "type": "quantitative", "scale": {"type": "log", "domain": [0.0026, 324], "nice": false},
        "axis": {"values": [0.01, 0.1, 1, 10, 100], "format": "~g", "grid": true, "gridColor": "#c4c4c4", "domainColor": "#000000", "tickColor": "#000000", "tickSize": 5, "labelFontSize": 14, "labelColor": "#3c3c3c", "labelPadding": 4,
          "title": "E-Field / mV/m", "titleFontSize": 16, "titleFontWeight": "bold", "titleColor": "#000000", "titleX": -47.5, "titleY": 79.7, "titleBaseline": "middle", "titleAlign": "center", "titleAngle": 270}},
      "color": {"datum": "Act", "type": "nominal", "scale": {"domain": ["Act", "Max", "Min"], "range": ["#000000", "#a52a2a", "#1c1c96"]},
        "legend": {"orient": "none", "legendX": 568.5, "legendY": 2.7, "title": null, "symbolSize": 0, "symbolStrokeWidth": 0, "symbolOpacity": 0, "labelFontSize": 16, "labelFontWeight": "bold", "labelOffset": 0, "rowPadding": 1, "padding": 0,
          "encode": {"labels": {"update": {"fill": {"signal": "datum.value === 'Act' ? '#000000' : datum.value === 'Max' ? '#a00000' : '#0000a0'"}}}}}}}},
   {"data": {"name": "min"}, "mark": {"type": "line", "strokeWidth": 1, "clip": true},
    "encoding": {"x": {"field": "f", "type": "quantitative", "scale": {"domain": [920, 970], "nice": false, "zero": false}, "axis": null},
      "y": {"field": "v", "type": "quantitative", "scale": {"type": "log", "domain": [0.0026, 324], "nice": false}, "axis": null},
      "color": {"datum": "Min", "type": "nominal", "scale": {"domain": ["Act", "Max", "Min"], "range": ["#000000", "#a52a2a", "#1c1c96"]},
        "legend": {"orient": "none", "legendX": 568.5, "legendY": 2.7, "title": null, "symbolSize": 0, "symbolStrokeWidth": 0, "symbolOpacity": 0, "labelFontSize": 16, "labelFontWeight": "bold", "labelOffset": 0, "rowPadding": 1, "padding": 0,
          "encode": {"labels": {"update": {"fill": {"signal": "datum.value === 'Act' ? '#000000' : datum.value === 'Max' ? '#a00000' : '#0000a0'"}}}}}}}},
   {"data": {"name": "markerA"}, "mark": {"type": "rule", "color": "#8c8c8c", "strokeWidth": 2},
    "encoding": {"x": {"field": "freq", "type": "quantitative", "scale": {"domain": [920, 970], "nice": false, "zero": false},
      "axis": {"orient": "top", "values": [922, 924, 926, 928, 932, 934, 936, 938, 942, 944, 946, 948, 952, 954, 956, 958, 962, 964, 966, 968], "grid": true, "gridColor": "#e6e6e6", "labels": false, "ticks": false, "domain": false, "title": null}}}},
   {"data": {"name": "markerA"}, "mark": {"type": "rule", "color": "#000000", "strokeWidth": 1.2},
    "encoding": {"y": {"field": "level", "type": "quantitative", "scale": {"type": "log", "domain": [0.0026, 324], "nice": false}, "axis": null}}},
   {"data": {"name": "markerA"}, "mark": {"type": "point", "shape": "diamond", "size": 100, "filled": false, "stroke": "#000000", "strokeWidth": 2.5, "opacity": 1},
    "encoding": {"x": {"field": "freq", "type": "quantitative", "scale": {"domain": [920, 970], "nice": false, "zero": false}, "axis": null},
      "y": {"field": "level", "type": "quantitative", "scale": {"type": "log", "domain": [0.0026, 324], "nice": false}, "axis": null}}},
   {"data": {"name": "markerB"}, "mark": {"type": "point", "shape": "diamond", "size": 150, "filled": false, "stroke": "#8c8c8c", "strokeWidth": 2, "opacity": 1},
    "encoding": {"x": {"field": "freq", "type": "quantitative", "scale": {"domain": [920, 970], "nice": false, "zero": false}, "axis": null},
      "y": {"field": "level", "type": "quantitative", "scale": {"type": "log", "domain": [0.0026, 324], "nice": false}, "axis": null}}},
   {"data": {"name": "markerB"}, "mark": {"type": "point", "shape": "M-0.7,-0.7L0.7,0.7M-0.7,0.7L0.7,-0.7", "size": 150, "filled": false, "stroke": "#8c8c8c", "strokeWidth": 1.5, "opacity": 1},
    "encoding": {"x": {"field": "freq", "type": "quantitative", "scale": {"domain": [920, 970], "nice": false, "zero": false}, "axis": null},
      "y": {"field": "level", "type": "quantitative", "scale": {"type": "log", "domain": [0.0026, 324], "nice": false}, "axis": null}}},
   {"data": {"name": "markerA"}, "mark": {"type": "point", "shape": "M-1,-0.53L1,-0.53L0,0.53Z", "size": 225, "filled": true, "fill": "#ffffff", "stroke": "#6a6a6a", "strokeWidth": 1, "opacity": 1},
    "encoding": {"x": {"field": "freq", "type": "quantitative", "scale": {"domain": [920, 970], "nice": false, "zero": false}, "axis": null},
      "y": {"datum": 236, "type": "quantitative", "scale": {"type": "log", "domain": [0.0026, 324], "nice": false}, "axis": null}}},
   {"data": {"name": "markerA"}, "mark": {"type": "point", "shape": "M-1,-0.17L1,-0.17L1,0.17L-1,0.17Z", "size": 225, "filled": true, "fill": "#000000", "strokeWidth": 0, "opacity": 1},
    "encoding": {"x": {"field": "freq", "type": "quantitative", "scale": {"domain": [920, 970], "nice": false, "zero": false}, "axis": null},
      "y": {"datum": 324, "type": "quantitative", "scale": {"type": "log", "domain": [0.0026, 324], "nice": false}, "axis": null}}},
   {"data": {"name": "markerA"}, "mark": {"type": "text", "fontSize": 14, "fill": "#333333", "baseline": "alphabetic", "dy": -5.6},
    "encoding": {"x": {"field": "freq", "type": "quantitative", "scale": {"domain": [920, 970], "nice": false, "zero": false}, "axis": null},
      "y": {"datum": 324, "type": "quantitative", "scale": {"type": "log", "domain": [0.0026, 324], "nice": false}, "axis": null},
      "text": {"field": "marker"}}},
   {"data": {"name": "markerA"}, "mark": {"type": "point", "shape": "M-1,-0.2L1,-0.2L1,0.2L-1,0.2Z", "size": 196, "filled": true, "fill": "#000000", "strokeWidth": 0, "opacity": 1, "yOffset": -1.5},
    "encoding": {"x": {"field": "freq", "type": "quantitative", "scale": {"domain": [920, 970], "nice": false, "zero": false}, "axis": null},
      "y": {"datum": 0.0026, "type": "quantitative", "scale": {"type": "log", "domain": [0.0026, 324], "nice": false}, "axis": null}}},
   {"data": {"name": "markerA"}, "mark": {"type": "point", "shape": "M-0.2,-1L0.2,-1L0.2,1L-0.2,1Z", "size": 225, "filled": true, "fill": "#000000", "strokeWidth": 0, "opacity": 1, "xOffset": -1.3},
    "encoding": {"x": {"datum": 920, "type": "quantitative", "scale": {"domain": [920, 970], "nice": false, "zero": false}, "axis": null},
      "y": {"field": "level", "type": "quantitative", "scale": {"type": "log", "domain": [0.0026, 324], "nice": false}, "axis": null}}},
   {"data": {"name": "markerA"}, "mark": {"type": "point", "shape": "M-0.53,-1L0.53,0L-0.53,1Z", "size": 169, "filled": true, "fill": "#ffffff", "stroke": "#6a6a6a", "strokeWidth": 1, "opacity": 1, "xOffset": 4.2},
    "encoding": {"x": {"datum": 920, "type": "quantitative", "scale": {"domain": [920, 970], "nice": false, "zero": false}, "axis": null},
      "y": {"field": "level", "type": "quantitative", "scale": {"type": "log", "domain": [0.0026, 324], "nice": false}, "axis": null}}},
   {"data": {"name": "markerA"}, "mark": {"type": "point", "shape": "M-0.2,-1L0.2,-1L0.2,1L-0.2,1Z", "size": 225, "filled": true, "fill": "#000000", "strokeWidth": 0, "opacity": 1, "xOffset": 1.3},
    "encoding": {"x": {"datum": 970, "type": "quantitative", "scale": {"domain": [920, 970], "nice": false, "zero": false}, "axis": null},
      "y": {"field": "level", "type": "quantitative", "scale": {"type": "log", "domain": [0.0026, 324], "nice": false}, "axis": null}}},
   {"data": {"name": "markerA"}, "mark": {"type": "point", "shape": "M0.53,-1L-0.53,0L0.53,1Z", "size": 169, "filled": true, "fill": "#ffffff", "stroke": "#6a6a6a", "strokeWidth": 1, "opacity": 1, "xOffset": -4.2},
    "encoding": {"x": {"datum": 970, "type": "quantitative", "scale": {"domain": [920, 970], "nice": false, "zero": false}, "axis": null},
      "y": {"field": "level", "type": "quantitative", "scale": {"type": "log", "domain": [0.0026, 324], "nice": false}, "axis": null}}},
   {"data": {"name": "markerB"}, "mark": {"type": "point", "shape": "M-0.4,-1L0.4,-1L0.4,1L-0.4,1Z", "size": 100, "filled": true, "fill": "#8c8c8c", "strokeWidth": 0, "opacity": 1, "xOffset": 1.3},
    "encoding": {"x": {"datum": 970, "type": "quantitative", "scale": {"domain": [920, 970], "nice": false, "zero": false}, "axis": null},
      "y": {"field": "level", "type": "quantitative", "scale": {"type": "log", "domain": [0.0026, 324], "nice": false}, "axis": null}}},
   {"data": {"name": "markerB"}, "mark": {"type": "point", "shape": "M-0.53,-1L0.53,0L-0.53,1Z", "size": 100, "filled": false, "stroke": "#9a9a9a", "strokeWidth": 1, "opacity": 1, "xOffset": 3},
    "encoding": {"x": {"datum": 920, "type": "quantitative", "scale": {"domain": [920, 970], "nice": false, "zero": false}, "axis": null},
      "y": {"field": "level", "type": "quantitative", "scale": {"type": "log", "domain": [0.0026, 324], "nice": false}, "axis": null}}},
   {"data": {"values": [{"t": "Z-Axis"}]}, "mark": {"type": "text", "fontSize": 15, "fill": "#333333", "align": "left", "baseline": "middle", "dx": -57.5, "dy": 36.3},
    "encoding": {"x": {"datum": 920, "type": "quantitative", "scale": {"domain": [920, 970], "nice": false, "zero": false}, "axis": null},
      "y": {"datum": 0.0026, "type": "quantitative", "scale": {"type": "log", "domain": [0.0026, 324], "nice": false}, "axis": null},
      "text": {"field": "t"}}}
  ]}
],
"resolve": {"scale": {"x": "independent", "y": "independent"}, "axis": {"x": "independent", "y": "independent"}}
}
